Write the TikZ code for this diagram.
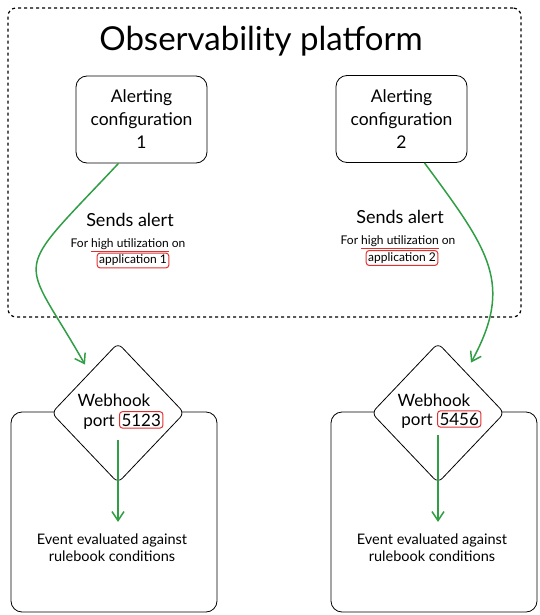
\documentclass[tikz,border=0pt]{standalone}
\usepackage{fontspec}
\setmainfont{Lato}
\usetikzlibrary{shapes,arrows.meta}
\definecolor{flowgreen}{RGB}{47,158,68}
\definecolor{tagred}{RGB}{224,49,49}
\newcommand{\redul}[1]{\textcolor{tagred}{\underline{\textcolor{black}{#1}}}}

\begin{document}
\begin{tikzpicture}[x=1pt,y=-1pt]
    \tikzstyle{platform}=[rectangle,draw,dashed,line width=1.2pt,rounded corners=8pt,minimum width=513pt,minimum height=309pt]
    \tikzstyle{config}=[rectangle,draw,line width=0.8pt,rounded corners=11pt,minimum width=131pt,minimum height=87pt,align=center,font=\fontsize{17.5}{23}\selectfont]
    \tikzstyle{rulebox}=[rectangle,draw,line width=0.8pt,rounded corners=11pt,minimum width=206pt,minimum height=200pt]
    \tikzstyle{webhook}=[diamond,draw,fill=white,line width=0.8pt,rounded corners=6pt,minimum width=133pt,minimum height=140pt,inner sep=0pt]
    \tikzstyle{txt}=[inner sep=0pt,font=\fontsize{17}{20}\selectfont]
    \tikzstyle{tag}=[rectangle,draw=tagred,line width=1pt,rounded corners=3pt,inner sep=2pt]
    \tikzstyle{note}=[inner sep=0pt,align=center,font=\fontsize{12}{15}\selectfont]
    \tikzstyle{event}=[inner sep=0pt,align=center,font=\fontsize{14.5}{17}\selectfont]
    \tikzstyle{flow}=[draw=flowgreen,line width=1.5pt,-{Straight Barb[length=9pt,width=12pt]}]
    \useasboundingbox (0,0) rectangle (540,615);
    \node[platform] (obs) at (264.5,162.5) {};
    \node[inner sep=0pt,font=\fontsize{33}{38}\selectfont] (title) at (261,41) {Observability platform};
    \node[config] (a1) at (141.5,119.5) {Alerting\\configuration\\1};
    \node[config] (a2) at (401.5,119) {Alerting\\configuration\\2};
    \node[txt,font=\fontsize{18}{20}\selectfont] (s1) at (130,220) {Sends alert};
    \node[txt,font=\fontsize{18}{20}\selectfont] (s2) at (400,217) {Sends alert};
    \node[note] (f1) at (128,245) {For \redul{high utilization} on};
    \node[note] (f2) at (398,242) {For \redul{high utilization} on};
    \node[note,tag] (app1) at (133,260.5) {application 1};
    \node[note,tag] (app2) at (402,258) {application 2};
    \node[rulebox] (r1) at (114,512) {};
    \node[rulebox] (r2) at (434,512) {};
    \node[webhook] (w1) at (118,413) {};
    \node[webhook] (w2) at (438,413) {};
    \node[txt] (wt1) at (114,400) {Webhook};
    \node[txt] (wt2) at (434,400) {Webhook};
    \node[txt,anchor=base east] (pt1) at (115,426) {port};
    \node[txt,tag,anchor=base west] (n1) at (119,426) {5123};
    \node[txt,anchor=base east] (pt2) at (433,425) {port};
    \node[txt,tag,anchor=base west] (n2) at (437,425) {5456};
    \node[event] (ev1) at (112,548) {Event evaluated against\\rulebook conditions};
    \node[event] (ev2) at (432,548) {Event evaluated against\\rulebook conditions};
    \draw[flow] ([xshift=-23pt]a1.south) .. controls +(-110,117) and +(-64,-113) .. ([shift={(-33,22)}]w1.north);
    \draw[flow] ([xshift=23pt]a2.south) .. controls +(65,88) and +(43,-79) .. ([shift={(33,20)}]w2.north);
    \draw[flow] ([yshift=-27pt]w1.center) -- ([yshift=12pt]w1.center |- ev1.north);
    \draw[flow] ([yshift=-22pt]w2.center) -- ([yshift=12pt]w2.center |- ev2.north);
\end{tikzpicture}
\end{document}
